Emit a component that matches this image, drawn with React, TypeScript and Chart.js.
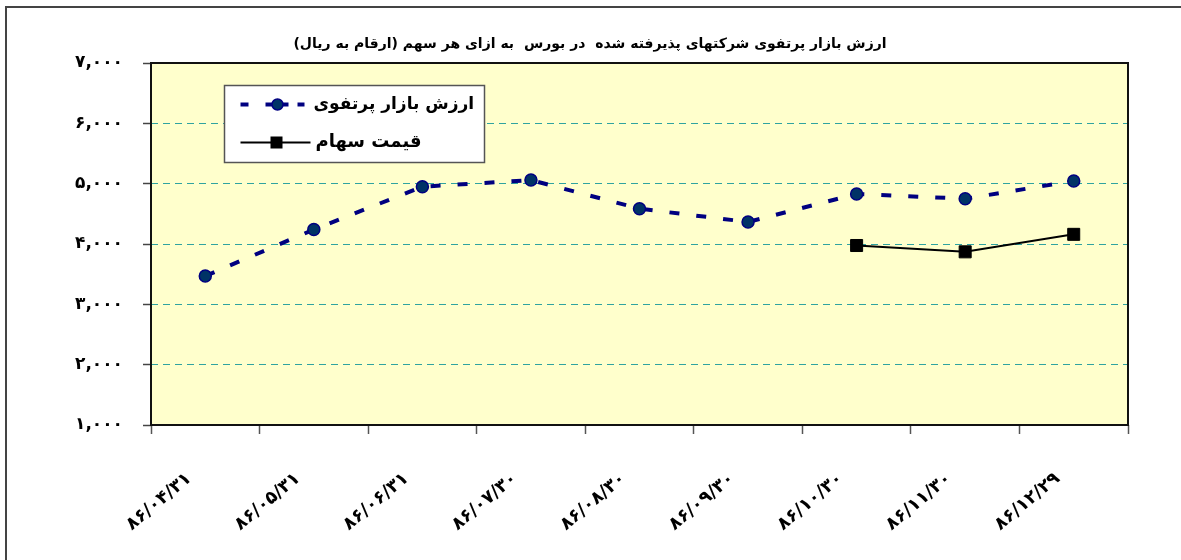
import React, { useEffect, useRef } from "react";
import { Chart, registerables } from "chart.js";

Chart.register(...registerables);

const titleText =
  "ارزش بازار پرتفوی شرکتهای پذیرفته شده  در بورس  به ازای هر سهم (ارقام به ریال)";

const categories = [
  "۸۶/۰۴/۳۱",
  "۸۶/۰۵/۳۱",
  "۸۶/۰۶/۳۱",
  "۸۶/۰۷/۳۰",
  "۸۶/۰۸/۳۰",
  "۸۶/۰۹/۳۰",
  "۸۶/۱۰/۳۰",
  "۸۶/۱۱/۳۰",
  "۸۶/۱۲/۲۹",
];

const portfolioLabel = "ارزش بازار پرتفوی";
const priceLabel = "قیمت سهام";

const portfolioValues = [3470, 4240, 4950, 5060, 4585, 4365, 4830, 4750, 5045];
const priceValues = [null, null, null, null, null, null, 3975, 3870, 4160];

const yTickValues = [1000, 2000, 3000, 4000, 5000, 6000, 7000];
const yTickLabels = ["۱,۰۰۰", "۲,۰۰۰", "۳,۰۰۰", "۴,۰۰۰", "۵,۰۰۰", "۶,۰۰۰", "۷,۰۰۰"];

const FONT = "'DejaVu Sans', sans-serif";
const NAVY = "#000080";
const MARKER_FILL = "#003366";

const backgroundPlugin = {
  id: "bgPlugin",
  beforeDraw(chart: any) {
    const { ctx, chartArea } = chart;
    ctx.save();
    ctx.fillStyle = "#ffffff";
    ctx.fillRect(0, 0, chart.width, chart.height);
    ctx.strokeStyle = "#444";
    ctx.lineWidth = 2;
    ctx.beginPath();
    ctx.moveTo(6, chart.height);
    ctx.lineTo(6, 7);
    ctx.lineTo(chart.width, 7);
    ctx.stroke();
    ctx.fillStyle = "#FFFFCC";
    ctx.fillRect(
      chartArea.left,
      chartArea.top,
      chartArea.right - chartArea.left,
      chartArea.bottom - chartArea.top
    );
    ctx.restore();
  },
  beforeDatasetsDraw(chart: any) {
    const { ctx, chartArea } = chart;
    ctx.save();
    ctx.strokeStyle = "#111111";
    ctx.lineWidth = 2;
    ctx.strokeRect(
      chartArea.left,
      chartArea.top,
      chartArea.right - chartArea.left,
      chartArea.bottom - chartArea.top
    );
    ctx.restore();
  },
};

const titlePlugin = {
  id: "titlePlugin",
  afterDraw(chart: any) {
    const { ctx } = chart;
    ctx.save();
    ctx.font = `bold 14px ${FONT}`;
    ctx.fillStyle = "#000";
    ctx.textAlign = "center";
    ctx.textBaseline = "middle";
    ctx.fillText(titleText, 590, 44);
    ctx.restore();
  },
};

const legendPlugin = {
  id: "boxLegend",
  afterDraw(chart: any) {
    const { ctx, chartArea } = chart;
    const bx = chartArea.left + 73.5;
    const by = chartArea.top + 22.5;
    const bw = 260;
    const bh = 77;
    ctx.save();
    ctx.fillStyle = "#ffffff";
    ctx.fillRect(bx, by, bw, bh);
    ctx.strokeStyle = "#555";
    ctx.lineWidth = 1.5;
    ctx.strokeRect(bx, by, bw, bh);

    const sx = bx + 16;
    const y1 = by + 19;
    const y2 = by + 57;

    ctx.strokeStyle = NAVY;
    ctx.lineWidth = 4;
    ctx.lineCap = "butt";
    const segs = [
      [0, 8],
      [25, 48],
      [57, 64],
    ];
    segs.forEach(([a, b]) => {
      ctx.beginPath();
      ctx.moveTo(sx + a, y1);
      ctx.lineTo(sx + b, y1);
      ctx.stroke();
    });
    ctx.beginPath();
    ctx.arc(sx + 37, y1, 5.5, 0, Math.PI * 2);
    ctx.fillStyle = MARKER_FILL;
    ctx.fill();
    ctx.lineWidth = 1.5;
    ctx.strokeStyle = NAVY;
    ctx.stroke();

    ctx.strokeStyle = "#000";
    ctx.lineWidth = 2;
    ctx.beginPath();
    ctx.moveTo(sx, y2);
    ctx.lineTo(sx + 70, y2);
    ctx.stroke();
    ctx.fillStyle = "#000";
    ctx.fillRect(sx + 36 - 6, y2 - 6, 12, 12);

    ctx.fillStyle = "#000";
    ctx.textBaseline = "middle";
    ctx.textAlign = "left";
    ctx.font = `bold 17px ${FONT}`;
    ctx.fillText(portfolioLabel, sx + 73, y1);
    ctx.font = `bold 18px ${FONT}`;
    ctx.fillText(priceLabel, sx + 75, y2);
    ctx.restore();
  },
};

export default function App() {
  const canvasRef = useRef<HTMLCanvasElement | null>(null);

  useEffect(() => {
    const canvas = canvasRef.current;
    if (!canvas) return;
    const chart = new Chart(canvas, {
      type: "line",
      data: {
        labels: categories,
        datasets: [
          {
            label: portfolioLabel,
            data: portfolioValues,
            borderColor: NAVY,
            borderWidth: 4,
            borderDash: [10, 17],
            backgroundColor: MARKER_FILL,
            pointBackgroundColor: MARKER_FILL,
            pointBorderColor: NAVY,
            pointBorderWidth: 1.5,
            pointRadius: 6,
            pointStyle: "circle",
            tension: 0,
            fill: false,
          },
          {
            label: priceLabel,
            data: priceValues,
            borderColor: "#000",
            borderWidth: 2,
            backgroundColor: "#000",
            pointBackgroundColor: "#000",
            pointBorderColor: "#000",
            pointBorderWidth: 1,
            pointRadius: 8.5,
            pointStyle: "rect",
            tension: 0,
            fill: false,
            spanGaps: false,
          },
        ],
      },
      options: {
        responsive: false,
        animation: false,
        devicePixelRatio: 1,
        layout: { padding: { left: 0, top: 63, right: 53, bottom: 0 } },
        plugins: {
          legend: { display: false },
          title: { display: false },
          tooltip: { enabled: false },
        },
        scales: {
          x: {
            type: "category",
            offset: true,
            grid: {
              display: true,
              drawOnChartArea: false,
              offset: true,
              tickLength: 9,
              tickColor: "#555",
              tickWidth: 1.5,
            },
            border: { display: false },
            ticks: {
              autoSkip: false,
              minRotation: 40,
              maxRotation: 40,
              padding: 34,
              labelOffset: -16,
              color: "#000",
              font: { family: FONT, size: 18, weight: "bold" },
            },
            afterFit: (s: any) => {
              s.height = 135;
            },
          },
          y: {
            min: 1000,
            max: 7000,
            ticks: {
              stepSize: 1000,
              padding: 20,
              color: "#000",
              font: { family: FONT, size: 17, weight: "bold" },
              callback: (v: any) => {
                const i = yTickValues.indexOf(Number(v));
                return i >= 0 ? yTickLabels[i] : "";
              },
            },
            grid: {
              color: "#2fa3a0",
              lineWidth: 1,
              tickColor: "#444",
              tickBorderDash: [],
              tickLength: 8,
              tickWidth: 1.5,
            },
            border: { display: false, dash: [7, 5] },
            afterFit: (s: any) => {
              s.width = 151;
            },
          },
        },
      },
      plugins: [backgroundPlugin, titlePlugin, legendPlugin],
    } as any);
    return () => chart.destroy();
  }, []);

  return (
    <div
      style={{
        position: "absolute",
        left: 0,
        top: 0,
        width: 1181,
        height: 560,
        overflow: "hidden",
        background: "#fff",
      }}
    >
      <canvas
        ref={canvasRef}
        width={1181}
        height={560}
        style={{ display: "block", width: 1181, height: 560 }}
      />
    </div>
  );
}
